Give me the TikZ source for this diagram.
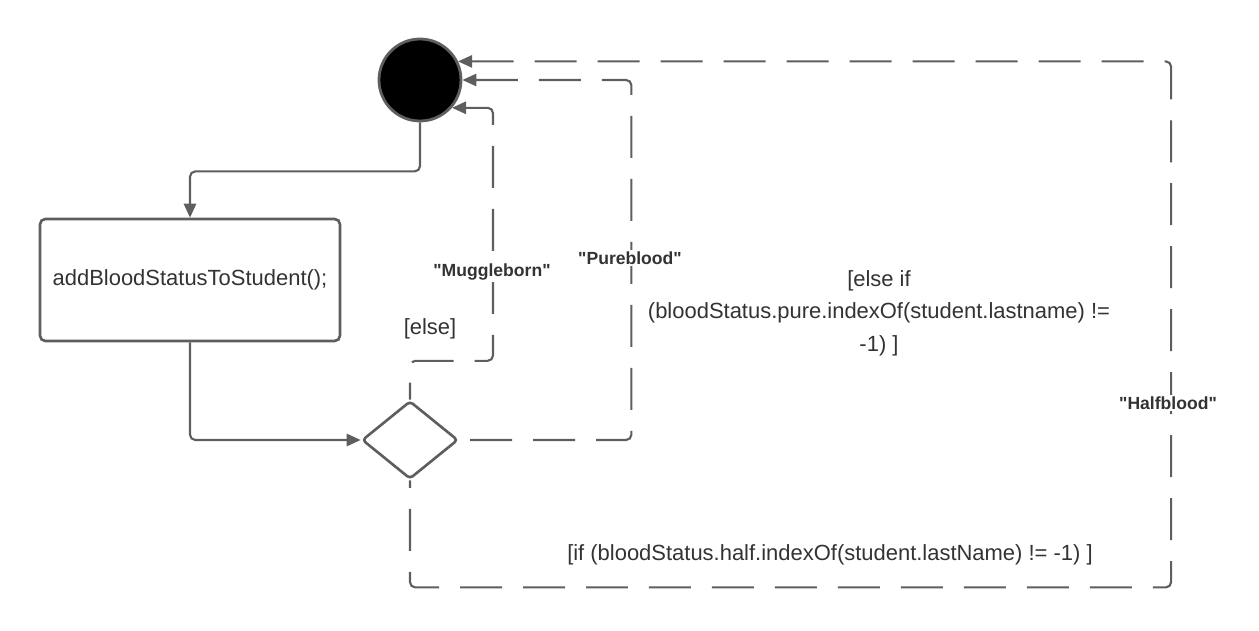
\documentclass[tikz,border=0pt]{standalone}
\usepackage{fontspec}
\setmainfont{Liberation Sans}
\usetikzlibrary{shapes.geometric, arrows.meta, positioning}
\definecolor{linegray}{HTML}{5E5E5E}
\definecolor{textgray}{HTML}{333333}

\begin{document}
\begin{tikzpicture}[
      x=0.02cm, y=-0.02cm,
      font=\fontsize{12.5}{18.5}\selectfont,
      text=textgray,
      start/.style={circle, draw=linegray, line width=1.6pt, fill=black, minimum size=1.64cm, inner sep=0},
      box/.style={rectangle, draw=linegray, line width=1.5pt, rounded corners=3pt, text centered, minimum width=6cm, minimum height=2.44cm},
      decision/.style={diamond, draw=linegray, line width=1.5pt, rounded corners=2pt, minimum width=1.92cm, minimum height=1.56cm, inner sep=0},
      arrow/.style={line width=1.2pt, draw=linegray, rounded corners=3pt, -{Triangle[length=8pt,width=7pt]}},
      backarrow/.style={line width=1.2pt, draw=linegray, rounded corners=3pt, {Triangle[length=8pt,width=7pt]}-, dash pattern=on 0.84cm off 0.42cm},
      guard/.style={fill=white, inner sep=1pt, align=center},
      outcome/.style={fill=white, inner sep=1pt, font=\fontsize{10}{12}\selectfont\bfseries}
    ]
      \useasboundingbox (0,0) rectangle (1259,631);

      \node (init) [start] at (420,80) {};
      \node (addstatus) [box] at (190,280) {addBloodStatusToStudent();};
      \node (choice) [decision] at (410,440) {};

      \draw [arrow] (init.south) -- ++(0,49) -| (addstatus.north);
      \draw [arrow] (addstatus.south) |- (choice.west);
      % the three guarded returns, drawn from the tip so a dash meets it
      \draw [backarrow] (init.-41) -| ++(41,253) -| (choice.north);
      \draw [backarrow] (init.east) -| ++(169,360) -- (choice.east);
      \draw [backarrow] (init.26) -| ++(713,526) -| (choice.south);

      \node (muggle) [outcome] at (492,272) {\textquotedbl Muggleborn\textquotedbl};
      \node (elseguard) [guard] at (430,329) {[else]};
      \node (pure) [outcome] at (630,258) {\textquotedbl Pureblood\textquotedbl};
      \node (pureguard) [guard] at (879,313) {[else if\\(bloodStatus.pure.indexOf(student.lastname) !=\\-1) ]};
      \node (half) [outcome] at (1168,403) {\textquotedbl Halfblood\textquotedbl};
      \node (halfguard) [guard] at (830,555) {[if (bloodStatus.half.indexOf(student.lastName) != -1) ]};
    \end{tikzpicture}
\end{document}
